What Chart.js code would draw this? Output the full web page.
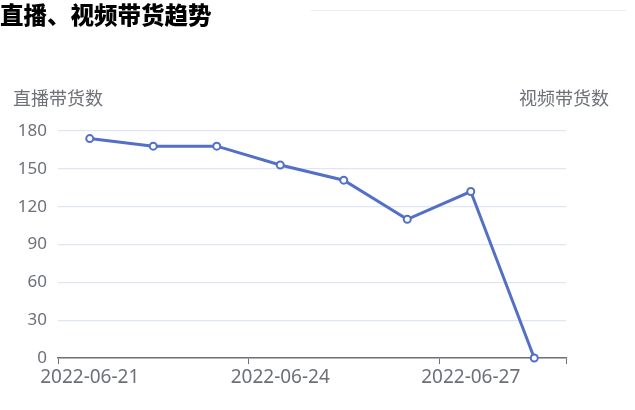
<!DOCTYPE html>
<html>
<head>
<meta charset="utf-8">
<script src="https://cdn.jsdelivr.net/npm/chart.js@4/dist/chart.umd.min.js"></script>
<style>
  body { margin: 0; background: #fff; }
  #wrap { position: relative; width: 635px; height: 410px; }
  #title {
    position: absolute; left: 0; top: -3px;
    font: 900 23.5px "Noto Sans CJK SC", sans-serif; color: #000;
  }
  #topline {
    position: absolute; left: 311px; top: 10px; width: 315px; height: 1px;
    background: #ebebf5;
  }
  canvas { position: absolute; left: 0; top: 0; }
</style>
</head>
<body>
<div id="wrap">
  <canvas id="chart" width="635" height="410"></canvas>
  <div id="title">直播、视频带货趋势</div>
  <div id="topline"></div>
</div>
<script>
// data
const dates = ['2022-06-21', '2022-06-22', '2022-06-23', '2022-06-24', '2022-06-25', '2022-06-26', '2022-06-27', '2022-06-28'];
const liveSales = [174, 168, 168, 153, 141, 110, 132, 0];
const yTicks = [0, 30, 60, 90, 120, 150, 180];
const leftAxisName = '直播带货数';
const rightAxisName = '视频带货数';

const axisGray = '#6E7079';
const gridColor = '#E0E6F1';
const lineColor = '#5470C6';
const fontFamily = '"Noto Sans", "Noto Sans CJK SC", sans-serif';

// axis names above the plot, like echarts does
const axisNames = {
  id: 'axisNames',
  afterDraw(chart) {
    const { ctx, chartArea } = chart;
    ctx.save();
    ctx.font = '18px "Noto Sans CJK SC", sans-serif';
    ctx.fillStyle = axisGray;
    ctx.textBaseline = 'middle';
    ctx.textAlign = 'left';
    ctx.fillText(leftAxisName, 13, chartArea.top - 33);
    ctx.textAlign = 'right';
    ctx.fillText(rightAxisName, 609, chartArea.top - 33);
    ctx.restore();
  }
};

const showTick = (c) => c.index === undefined || c.index % 3 === 0;

new Chart(document.getElementById('chart'), {
  type: 'line',
  data: {
    labels: dates,
    datasets: [{
      label: leftAxisName,
      data: liveSales,
      borderColor: lineColor,
      borderWidth: 3,
      pointRadius: 3.5,
      pointBorderWidth: 2,
      pointBackgroundColor: '#fff',
      pointBorderColor: lineColor,
      tension: 0,
      clip: false
    }]
  },
  options: {
    responsive: false,
    animation: false,
    layout: { padding: { left: 0, right: 69, top: 131, bottom: 0 } },
    plugins: {
      legend: { display: false },
      tooltip: { enabled: false }
    },
    scales: {
      x: {
        offset: true,
        afterFit: (s) => { s.height = 52; },
        grid: {
          offset: true,
          drawOnChartArea: false,
          tickLength: 6,
          tickWidth: 1,
          tickColor: (c) => showTick(c) ? axisGray : 'transparent'
        },
        border: { color: axisGray, width: 1.5 },
        ticks: {
          autoSkip: false,
          maxRotation: 0,
          padding: 2,
          color: axisGray,
          font: { family: fontFamily, size: 19 },
          callback: (v, i) => i % 3 === 0 ? dates[i] : ''
        }
      },
      y: {
        min: yTicks[0],
        max: yTicks[yTicks.length - 1],
        afterFit: (s) => { s.width = 58; },
        afterBuildTicks: (s) => { s.ticks = yTicks.map(v => ({ value: v })); },
        grid: { color: gridColor, lineWidth: 1.2, drawTicks: false },
        border: { display: false },
        ticks: {
          padding: 11,
          color: axisGray,
          font: { family: fontFamily, size: 17 }
        }
      }
    }
  },
  plugins: [axisNames]
});
</script>
</body>
</html>
